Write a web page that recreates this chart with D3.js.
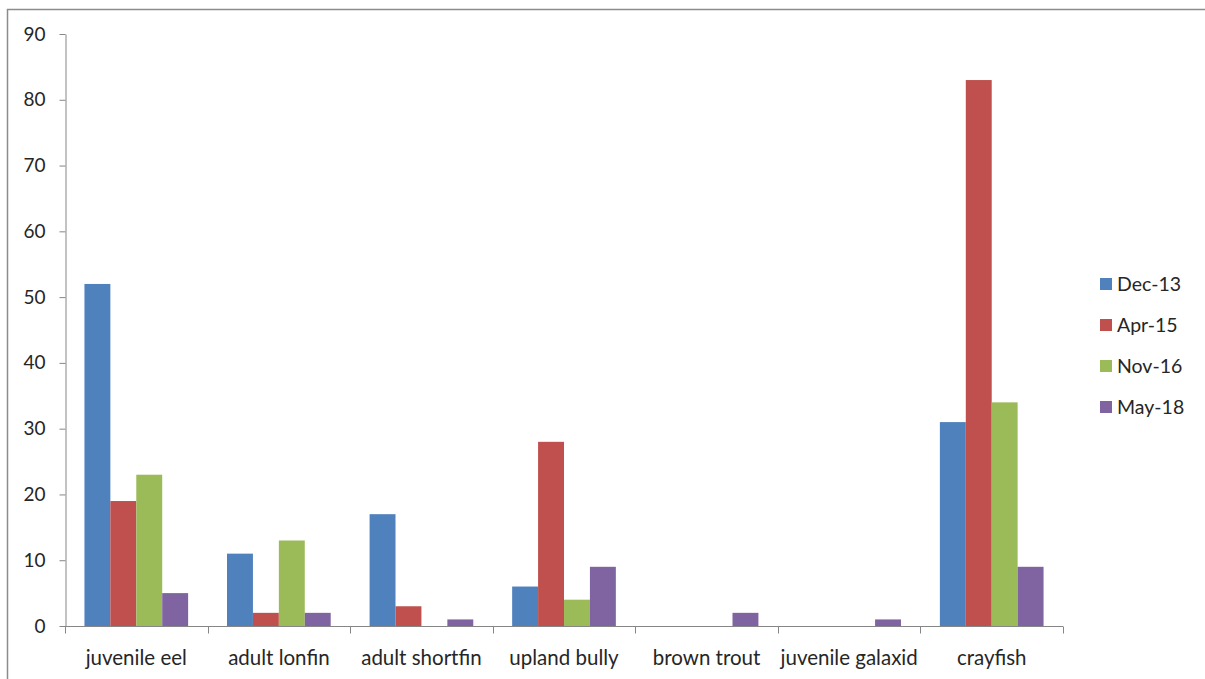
<!DOCTYPE html>
<html>
<head>
<meta charset="utf-8">
<script src="https://cdn.jsdelivr.net/npm/d3@7"></script>
<style>
  html, body { margin: 0; padding: 0; background: #fff; }
  svg { display: block; }
  text { font-family: Lato, "Open Sans", sans-serif; fill: #262626; }
</style>
</head>
<body>
<svg id="chart" width="1205" height="679"></svg>
<script>
// Catch counts per species across four survey dates
const categories = ["juvenile eel", "adult lonfin", "adult shortfin", "upland bully", "brown trout", "juvenile galaxid", "crayfish"];
const seriesNames = ["Dec-13", "Apr-15", "Nov-16", "May-18"];
const dec13 = [52, 11, 17, 6, 0, 0, 31];
const apr15 = [19, 2, 3, 28, 0, 0, 83];
const nov16 = [23, 13, 0, 4, 0, 0, 34];
const may18 = [5, 2, 1, 9, 2, 1, 9];
const yTicks = [0, 10, 20, 30, 40, 50, 60, 70, 80, 90];
const colors = ["#4F81BD", "#C0504D", "#9BBB59", "#8064A2"];

const series = [dec13, apr15, nov16, may18];

const svg = d3.select("#chart");

// outer frame (top and left edges)
svg.append("path")
  .attr("d", "M7.5,679 L7.5,9.5 L1205,9.5")
  .attr("fill", "none")
  .attr("stroke", "#8c8c8c")
  .attr("stroke-width", 1.5);

const plot = { left: 65, right: 1063, top: 34, bottom: 626 };

const x0 = d3.scaleBand()
  .domain(categories)
  .range([plot.left, plot.right])
  .paddingInner(0)
  .paddingOuter(0);

// gap width of 150% of a bar on each category
const groupFrac = 4 / 5.5;
const x1 = d3.scaleBand()
  .domain(seriesNames)
  .range([0, x0.bandwidth() * groupFrac]);
const groupOffset = (x0.bandwidth() - x0.bandwidth() * groupFrac) / 2;

const y = d3.scaleLinear().domain([0, 90]).range([plot.bottom, plot.top]);

// y axis
const yAxis = svg.append("g")
  .attr("transform", `translate(${plot.left + 0.5},0)`)
  .call(d3.axisLeft(y).tickValues(yTicks).tickSize(6).tickPadding(14).tickSizeOuter(0));
yAxis.select(".domain").attr("stroke", "#868686");
yAxis.selectAll(".tick line").attr("stroke", "#868686");
yAxis.selectAll(".tick text")
  .attr("font-size", 19)
  .attr("font-family", "Lato, 'Open Sans', sans-serif")
  .attr("fill", "#262626");

// bars
const groups = svg.append("g").selectAll("g")
  .data(categories)
  .join("g")
  .attr("transform", d => `translate(${x0(d) + groupOffset},0)`);

groups.selectAll("rect")
  .data((d, i) => seriesNames.map((s, k) => ({ s, k, v: series[k][i] })))
  .join("rect")
  .attr("x", d => x1(d.s))
  .attr("width", x1.bandwidth())
  .attr("y", d => y(d.v))
  .attr("height", d => plot.bottom - y(d.v))
  .attr("fill", d => colors[d.k]);

// x axis
const xAxisG = svg.append("g")
  .attr("transform", `translate(0,${plot.bottom + 0.5})`);
xAxisG.append("line")
  .attr("x1", plot.left).attr("x2", plot.right)
  .attr("stroke", "#868686");
const boundaries = categories.map(c => x0(c)).concat([plot.right]);
xAxisG.selectAll("line.tick")
  .data(boundaries)
  .join("line")
  .attr("class", "tick")
  .attr("x1", d => Math.round(d) + 0.5).attr("x2", d => Math.round(d) + 0.5)
  .attr("y1", 0).attr("y2", 7)
  .attr("stroke", "#868686");
xAxisG.selectAll("text")
  .data(categories)
  .join("text")
  .attr("x", d => x0(d) + x0.bandwidth() / 2)
  .attr("y", 38)
  .attr("text-anchor", "middle")
  .attr("font-size", 20.5)
  .text(d => d);

// legend
const legend = svg.append("g").attr("transform", "translate(1100,284)");
const items = legend.selectAll("g")
  .data(seriesNames)
  .join("g")
  .attr("transform", (d, i) => `translate(0,${i * 41})`);
items.append("rect")
  .attr("x", 0).attr("y", -6)
  .attr("width", 12).attr("height", 12)
  .attr("fill", (d, i) => colors[i]);
items.append("text")
  .attr("x", 17).attr("y", 0)
  .attr("dy", "0.35em")
  .attr("font-size", 19.5)
  .text(d => d);
</script>
</body>
</html>
